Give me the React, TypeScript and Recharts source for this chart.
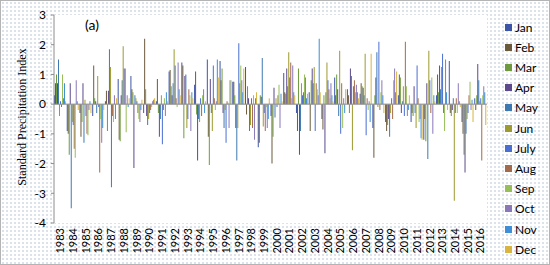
import React from "react";
import { BarChart, Bar, XAxis, YAxis, CartesianGrid, ReferenceLine } from "recharts";

// categories (one cluster per year)
const years = [
  "1983", "1984", "1985", "1986", "1987", "1988", "1989", "1990", "1991",
  "1992", "1993", "1994", "1995", "1996", "1997", "1998", "1999", "2000",
  "2001", "2002", "2003", "2004", "2005", "2006", "2007", "2008", "2009",
  "2010", "2011", "2012", "2013", "2014", "2015", "2016",
];

const months = ["Jan", "Feb", "Mar", "Apr", "May", "Jun", "July", "Aug", "Sep", "Oct", "Nov", "Dec"];

const monthColors = [
  "#3d55a6", "#6b5a3c", "#6f9a3e", "#5c4a8c", "#3f79b2", "#9d9a2f",
  "#4a6fd2", "#a36a4b", "#98be5a", "#8a78b9", "#3e8ed8", "#d9b441",
];

// SPI values, 1983 → 2016
const jan = [0.3, -0.9, -0.3, -0.4, 0.1, 0.85, 0.95, -0.3, 0.1, 1.1, 1.4, 0.65, 1.5, 1.45, 0.75, 1.25, -1.45, -0.4, 1.05, -0.3, 0.4, -0.5, 0.9, 0.5, 0.35, -0.8, -0.6, 0.3, -0.6, -1.2, 0.3, 1.45, -0.6, 0.2];
const feb = [0.7, -1.0, -1.1, 1.3, 0.45, -1.2, 0.5, 2.2, 0.85, 1.15, 1.3, 1.1, -1.1, 0.8, 0.75, -0.35, -1.3, -2.0, 0.4, -0.9, -0.9, -0.85, 0.3, 0.3, 0.7, -1.8, -0.9, 1.0, -0.3, -0.5, 1.0, -0.3, -1.0, -0.2];
const mar = [1.0, -1.7, -0.6, 0.2, -0.9, -1.25, 0.4, 0.5, -0.3, 0.6, -1.15, -0.35, -2.05, 1.2, 0.3, 0.6, 0.3, -1.1, 0.35, 1.2, 0.8, 0.3, 1.0, -0.3, 0.6, 0.3, -0.7, 0.9, -0.4, -1.25, 0.4, -0.4, -1.7, 0.3];
const apr = [0.7, 0.7, 0.7, 0.1, 0.45, 0.3, -2.15, -0.4, -1.1, 0.3, 0.95, -1.9, 0.85, -0.3, -0.8, 0.2, 0.25, 0.55, 1.2, -1.7, 1.2, -1.65, 0.5, 1.2, 0.55, 0.9, -0.5, -0.3, 0.6, 0.7, 1.3, -0.2, -2.3, 1.35];
const may = [1.5, -3.5, -1.3, -0.3, 1.85, 0.8, 0.3, -0.7, -0.5, 0.7, 1.0, -0.5, -0.3, -0.8, -1.9, -0.9, 1.55, -0.45, 0.6, -0.9, 0.7, 0.4, -0.4, 0.95, 0.3, 1.75, -1.1, 0.1, -0.3, -1.85, 0.5, 0.2, -1.0, 0.8];
const jun = [-0.4, -0.6, 0.15, 0.95, 1.25, 1.95, 0.2, -0.5, 0.3, 1.85, -0.8, -0.6, -0.9, -0.2, -0.8, -0.7, -0.75, 0.2, 1.75, 0.7, 1.25, 1.4, 1.8, -1.55, 1.7, -0.1, -0.3, 0.6, -0.8, 1.8, 1.25, -3.25, -0.5, 0.1];
const jul = [0.1, -0.7, -0.4, -0.1, -2.8, 1.2, 0.1, -0.3, -1.35, 1.3, -0.5, 0.2, 1.3, -1.3, 2.05, 0.2, -0.3, -0.1, 0.9, 0.3, -0.9, 0.8, -1.0, 0.6, -1.05, 2.1, 0.2, -0.4, 1.3, 0.8, 1.7, -0.3, -0.3, 0.2];
const aug = [-0.1, -1.5, -1.0, -2.3, -0.4, 1.2, -0.3, -0.2, -0.2, 0.2, 0.5, -0.4, 0.2, 0.1, 0.7, -0.8, -0.9, 0.3, 1.4, 0.4, 0.7, 0.5, 0.7, 0.8, 0.2, -0.2, -0.5, 2.1, 0.2, -0.3, -0.3, 0.2, 0.3, -1.9];
const sep = [1.0, -1.8, -1.05, -0.5, -0.6, -0.95, -0.5, -0.1, 0.2, -0.1, 0.3, 0.3, -0.2, 0.05, 1.3, 0.3, -0.1, 0.65, 0.2, 1.0, 0.5, 0.2, -0.8, 0.4, -0.2, 0.4, 0.8, 0.6, -0.6, 0.9, -0.9, -0.3, 0.75, 0.3];
const oct = [0.2, 0.8, -0.2, -1.3, 0.3, 0.3, -0.6, 0.1, -0.4, 1.4, -0.9, 0.5, 0.1, -0.8, 0.8, -1.2, -0.8, -0.8, 1.3, 0.9, 0.3, 0.7, 0.2, 0.65, 0.1, 0.8, 1.2, -0.4, -0.5, -1.0, 1.5, 0.7, -0.2, 0.6];
const nov = [0.7, 0.1, 0.1, -0.8, -0.5, -0.1, -0.2, 0.15, 0.4, 0.5, 0.4, -0.3, 1.5, 0.8, 0.4, 0.2, -0.5, 0.35, 0.4, 0.2, 2.2, 0.3, -0.3, 0.4, -0.6, 0.3, 0.4, -0.2, -1.15, 0.3, 0.4, 0.1, 0.15, 0.4];
const dec = [0.1, -0.2, -0.3, -0.2, 0.2, 0.2, 0.15, 0.2, 0.1, 0.3, 0.2, 0.1, 0.9, 0.8, 1.2, 0.4, 0.2, 0.1, 0.3, 0.35, 0.4, 0.1, 0.5, 0.2, 1.7, -0.3, 1.1, 0.3, -1.2, 0.1, -0.2, -0.1, -0.6, -0.7];

const monthValues = [jan, feb, mar, apr, may, jun, jul, aug, sep, oct, nov, dec];
const yTicks = [-4, -3, -2, -1, 0, 1, 2, 3];

const data = years.map((year, i) => {
  const row: Record<string, string | number> = { year };
  months.forEach((m, j) => {
    row[m] = monthValues[j][i];
  });
  return row;
});

const sansFont = "Lato, 'Open Sans', sans-serif";

const YearTick = ({ x, y, payload }: any) => (
  <text
    transform={`translate(${x},${y}) rotate(-90)`}
    textAnchor="end"
    dy="0.35em"
    fontSize={11}
    fontFamily={sansFont}
    fill="#000"
  >
    {payload.value}
  </text>
);

const YTitle = ({ viewBox }: any) => {
  const cy = viewBox.y + viewBox.height / 2 - 2;
  const cx = 22;
  return (
    <text
      x={cx}
      y={cy}
      transform={`rotate(-90, ${cx}, ${cy})`}
      textAnchor="middle"
      dominantBaseline="central"
      fontSize={12}
      fontFamily="'Liberation Serif', 'DejaVu Serif', serif"
      fill="#000"
    >
      Standard Precipitation Index
    </text>
  );
};

const App: React.FC = () => {
  return (
    <div
      style={{
        position: "absolute",
        left: 0,
        top: 0,
        width: 550,
        height: 265,
        backgroundColor: "#fff",
        backgroundImage: "radial-gradient(circle, #cfd8e3 0.6px, transparent 1px)",
        backgroundSize: "4px 4px",
        boxSizing: "border-box",
        border: "1px solid #b4b4b4",
        overflow: "hidden",
      }}
    >
      <div style={{ position: "absolute", left: -1, top: -1 }}>
        <BarChart
          width={550}
          height={265}
          data={data}
          margin={{ top: 15, right: 63, bottom: 0, left: 0 }}
          barCategoryGap={0}
          barGap={0}
        >
          <CartesianGrid horizontal={false} vertical={false} fill="#fff" />
          <XAxis
            dataKey="year"
            interval={0}
            height={42}
            axisLine={false}
            tickLine={false}
            tickSize={0}
            tickMargin={5}
            tick={<YearTick />}
          />
          <YAxis
            width={54}
            domain={[-4, 3]}
            ticks={yTicks}
            allowDataOverflow
            axisLine={{ stroke: "#8c8c8c" }}
            tickLine={{ stroke: "#8c8c8c" }}
            tickSize={3}
            tickMargin={5}
            tick={{ fill: "#000", fontSize: 12, fontFamily: sansFont }}
            label={<YTitle />}
          />
          {months.map((m, i) => (
            <Bar key={m} dataKey={m} fill={monthColors[i]} isAnimationActive={false} />
          ))}
          <ReferenceLine y={0} stroke="#8c8c8c" strokeWidth={1} />
        </BarChart>
      </div>

      <div
        style={{
          position: "absolute",
          left: 84,
          top: 16,
          fontSize: 14,
          fontFamily: sansFont,
          color: "#000",
          lineHeight: "16px",
        }}
      >
        (a)
      </div>

      {months.map((m, i) => (
        <div
          key={m}
          style={{
            position: "absolute",
            left: 504,
            top: 26 + i * 20.2 - 9,
            height: 18,
            display: "flex",
            alignItems: "center",
            fontSize: 12,
            fontFamily: sansFont,
            color: "#000",
          }}
        >
          <span
            style={{
              display: "inline-block",
              width: 7,
              height: 7,
              backgroundColor: monthColors[i],
              marginRight: 3,
            }}
          />
          {m}
        </div>
      ))}
    </div>
  );
};

export default App;
